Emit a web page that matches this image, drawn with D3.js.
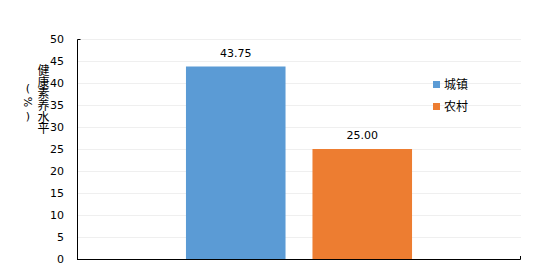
<!DOCTYPE html>
<html>
<head>
<meta charset="utf-8">
<script src="https://cdn.jsdelivr.net/npm/d3@7"></script>
<style>
  body { margin: 0; background: #fff; }
</style>
</head>
<body>
<div id="chart"></div>
<script>
// 数据
const categories = [""];
const seriesNames = ["城镇", "农村"];
const seriesValues = [43.75, 25.00];
const yTicks = [0, 5, 10, 15, 20, 25, 30, 35, 40, 45, 50];
const colors = ["#5b9bd5", "#ed7d31"];

const width = 541, height = 278;
const margin = { top: 39, right: 20, bottom: 19, left: 77 };

const svg = d3.select("#chart").append("svg")
    .attr("width", width)
    .attr("height", height)
    .style("font-family", "'DejaVu Sans', sans-serif");

const x0 = d3.scaleBand()
    .domain(categories)
    .range([margin.left, width - margin.right])
    .paddingOuter(0.482);

const x1 = d3.scaleBand()
    .domain(seriesNames)
    .range([0, x0.bandwidth()])
    .paddingInner(0.213);

const y = d3.scaleLinear()
    .domain([0, 50])
    .range([height - margin.bottom, margin.top]);

// 网格线
svg.append("g")
    .selectAll("line")
    .data(yTicks.slice(1))
    .join("line")
    .attr("x1", margin.left)
    .attr("x2", width - margin.right)
    .attr("y1", d => y(d) + 0.5)
    .attr("y2", d => y(d) + 0.5)
    .attr("stroke", "#efefef");

// y 轴
const yAxis = svg.append("g")
    .attr("transform", `translate(${margin.left},0)`)
    .call(d3.axisLeft(y).tickValues(yTicks).tickSize(0).tickPadding(13));
yAxis.select(".domain").remove();
yAxis.selectAll("text")
    .style("font-size", "11px")
    .style("font-family", "'DejaVu Sans', sans-serif")
    .attr("fill", "#000");

svg.append("path")
    .attr("d", `M${margin.left + 3.5},${y(50) + 0.5}H${margin.left + 0.5}V${y(0)}`)
    .attr("fill", "none")
    .attr("stroke", "#000");

// x 轴
svg.append("path")
    .attr("d", `M${margin.left},${y(0) + 0.5}H${width - margin.right - 0.5}V${y(0) - 3}`)
    .attr("fill", "none")
    .attr("stroke", "#000");

// 柱子
const group = svg.append("g")
    .selectAll("g")
    .data(categories)
    .join("g")
    .attr("transform", d => `translate(${x0(d)},0)`);

group.selectAll("rect")
    .data(seriesNames.map((s, i) => ({ s, v: seriesValues[i], c: colors[i] })))
    .join("rect")
    .attr("x", d => x1(d.s))
    .attr("y", d => y(d.v))
    .attr("width", x1.bandwidth())
    .attr("height", d => y(0) - y(d.v))
    .attr("fill", d => d.c);

group.selectAll("text")
    .data(seriesNames.map((s, i) => ({ s, v: seriesValues[i] })))
    .join("text")
    .attr("x", d => x1(d.s) + x1.bandwidth() / 2)
    .attr("y", d => y(d.v) - 10)
    .attr("text-anchor", "middle")
    .style("font-size", "11px")
    .text(d => d3.format(".2f")(d.v));

// 图例
const legend = svg.append("g")
    .selectAll("g")
    .data(seriesNames)
    .join("g")
    .attr("transform", (d, i) => `translate(433,${81 + i * 22})`);

legend.append("rect")
    .attr("width", 7)
    .attr("height", 7)
    .attr("fill", (d, i) => colors[i]);

legend.append("text")
    .attr("x", 11)
    .attr("y", 4)
    .attr("dy", "0.35em")
    .style("font-family", "'Noto Sans CJK SC', sans-serif")
    .style("font-size", "12px")
    .text(d => d);

// y 轴标题
const titleChars = ["健", "康", "素", "养", "水", "平"];
svg.append("g")
    .selectAll("text")
    .data(titleChars)
    .join("text")
    .attr("x", 43.5)
    .attr("y", (d, i) => 71 + i * 11.6)
    .attr("text-anchor", "middle")
    .attr("dy", "0.35em")
    .style("font-family", "'Noto Sans CJK SC', sans-serif")
    .style("font-size", "12px")
    .text(d => d);

const unit = svg.append("g").attr("transform", "translate(28,102)");
unit.append("text")
    .attr("y", -14)
    .attr("text-anchor", "middle")
    .attr("dy", "0.35em")
    .style("font-size", "11px")
    .text("(");
unit.append("text")
    .attr("transform", "rotate(90)")
    .attr("text-anchor", "middle")
    .attr("dy", "0.35em")
    .style("font-size", "11px")
    .text("%");
unit.append("text")
    .attr("y", 14)
    .attr("text-anchor", "middle")
    .attr("dy", "0.35em")
    .style("font-size", "11px")
    .text(")");
</script>
</body>
</html>
